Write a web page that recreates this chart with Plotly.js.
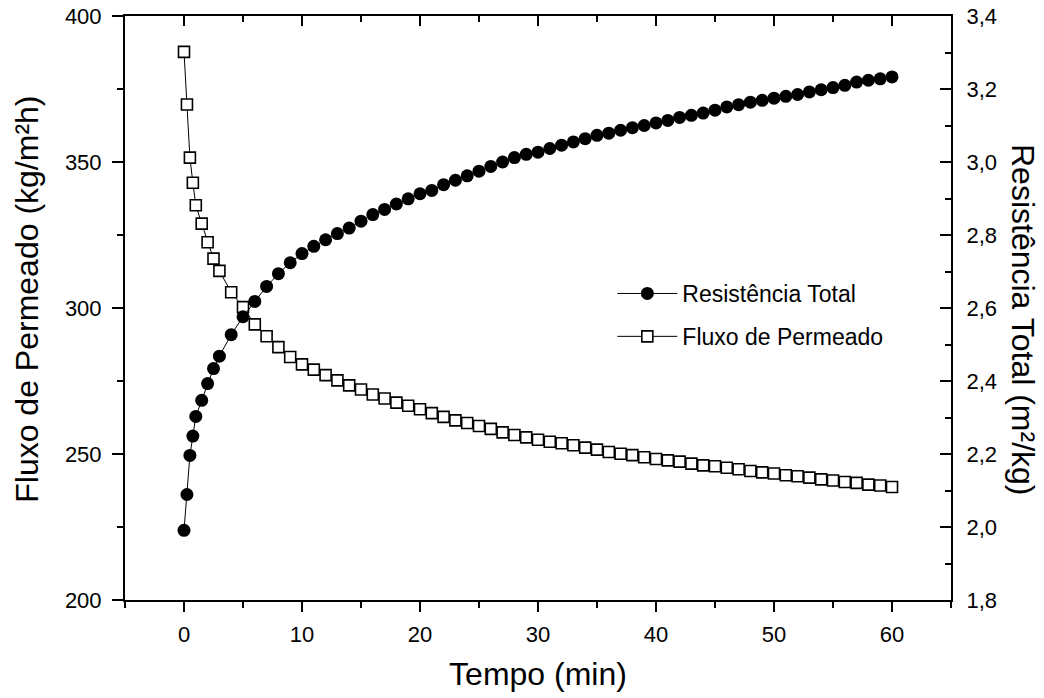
<!DOCTYPE html>
<html>
<head>
<meta charset="utf-8">
<script src="https://cdn.plot.ly/plotly-3.0.1.min.js"></script>
<style>html,body{margin:0;padding:0;background:#fff;}#chart{width:1044px;height:698px;}</style>
</head>
<body>
<div id="chart"></div>
<script>
var tempo = [0,0.25,0.5,0.75,1,1.5,2,2.5,3,4,5,6,7,8,9,10,11,12,13,14,15,16,17,18,19,20,21,22,23,24,25,26,27,28,29,30,31,32,33,34,35,36,37,38,39,40,41,42,43,44,45,46,47,48,49,50,51,52,53,54,55,56,57,58,59,60];
var fluxo = [387.7,369.7,351.5,342.9,335.2,328.9,322.5,316.9,312.7,305.4,300.3,294.4,290.3,286.6,283.2,280.7,278.9,277.0,275.2,273.5,272.1,270.4,269.0,267.6,266.5,265.3,264.0,262.7,261.5,260.6,259.6,258.6,257.4,256.5,255.7,254.9,254.2,253.7,253.0,252.2,251.5,250.7,250.1,249.6,248.9,248.3,247.8,247.4,246.7,246.1,245.8,245.3,244.8,244.2,243.7,243.3,242.7,242.4,241.9,241.3,240.9,240.4,240.1,239.5,239.2,238.7];
var resistencia = [1.991,2.089,2.196,2.249,2.303,2.347,2.393,2.434,2.468,2.527,2.576,2.618,2.659,2.694,2.724,2.749,2.769,2.787,2.804,2.819,2.838,2.856,2.870,2.885,2.899,2.913,2.922,2.938,2.950,2.962,2.975,2.988,3.000,3.012,3.021,3.027,3.037,3.046,3.055,3.064,3.073,3.079,3.087,3.094,3.100,3.107,3.114,3.122,3.128,3.134,3.142,3.151,3.157,3.164,3.169,3.175,3.180,3.185,3.192,3.198,3.204,3.210,3.219,3.224,3.228,3.233];
var nomeResistencia = 'Resistência Total';
var nomeFluxo = 'Fluxo de Permeado';
var tituloX = 'Tempo (min)';
var tituloY1 = 'Fluxo de Permeado (kg/m²h)';
var tituloY2 = 'Resistência Total (m²/kg)';

var FONT = 'Liberation Sans, Arial, Helvetica, sans-serif';

var traces = [
  {
    x: tempo, y: fluxo, name: nomeFluxo, type: 'scatter', mode: 'lines+markers',
    xaxis: 'x', yaxis: 'y', legendgroup: 'b', legendrank: 2,
    line: {color: '#000', width: 1},
    marker: {symbol: 'square', size: 11, color: '#fff', line: {color: '#000', width: 1.6}}
  },
  {
    x: tempo, y: resistencia, name: nomeResistencia, type: 'scatter', mode: 'lines+markers',
    xaxis: 'x', yaxis: 'y2', legendgroup: 'a', legendrank: 1,
    line: {color: '#000', width: 1},
    marker: {symbol: 'circle', size: 13, color: '#000', line: {width: 0}}
  },
  {
    x: [tempo[0]], y: [fluxo[0]], xaxis: 'x2', yaxis: 'y', showlegend: false,
    mode: 'markers', marker: {opacity: 0}, hoverinfo: 'skip'
  }
];

var layout = {
  width: 1044, height: 698,
  margin: {l: 125, r: 93, t: 16, b: 98},
  paper_bgcolor: '#fff', plot_bgcolor: '#fff',
  separators: ',.',
  font: {family: FONT, size: 22, color: '#000'},
  showlegend: true,
  legend: {
    x: 0.59, y: 0.488, xanchor: 'left', yanchor: 'middle',
    bgcolor: 'rgba(0,0,0,0)', borderwidth: 0, itemwidth: 60,
    font: {family: FONT, size: 23, color: '#000'},
    traceorder: 'grouped', tracegroupgap: 10
  },
  xaxis: {
    range: [-5, 65], tick0: 0, dtick: 10, showgrid: false, zeroline: false,
    showline: true, linewidth: 2, linecolor: '#000',
    ticks: 'outside', ticklen: 10, tickwidth: 2, tickcolor: '#000',
    minor: {dtick: 5, ticks: 'outside', ticklen: 6, tickwidth: 2, tickcolor: '#000', showgrid: false},
    tickfont: {size: 22}, ticklabelstandoff: 4,
    title: {text: tituloX, font: {size: 32}, standoff: 16}
  },
  xaxis2: {
    overlaying: 'x', side: 'top', range: [-5, 65], tick0: 0, dtick: 10,
    showgrid: false, zeroline: false, showticklabels: false,
    showline: true, linewidth: 2, linecolor: '#000',
    ticks: 'inside', ticklen: 10, tickwidth: 2, tickcolor: '#000',
    minor: {dtick: 5, ticks: 'inside', ticklen: 6, tickwidth: 2, tickcolor: '#000', showgrid: false}
  },
  yaxis: {
    range: [200, 400], tick0: 200, dtick: 50, showgrid: false, zeroline: false,
    showline: true, linewidth: 2, linecolor: '#000',
    ticks: 'outside', ticklen: 11, tickwidth: 2, tickcolor: '#000',
    minor: {dtick: 25, ticks: 'outside', ticklen: 6, tickwidth: 2, tickcolor: '#000', showgrid: false},
    tickfont: {size: 22}, ticklabelstandoff: 6
  },
  yaxis2: {
    overlaying: 'y', side: 'right', range: [1.8, 3.4], tick0: 1.8, dtick: 0.2, tickformat: '.1f',
    showgrid: false, zeroline: false,
    showline: true, linewidth: 2, linecolor: '#000',
    ticks: 'inside', ticklen: 11, tickwidth: 2, tickcolor: '#000',
    minor: {dtick: 0.1, ticks: 'inside', ticklen: 6, tickwidth: 2, tickcolor: '#000', showgrid: false},
    tickfont: {size: 22}, ticklabelstandoff: 9
  },
  annotations: [
    {
      text: tituloY1, xref: 'paper', yref: 'paper', x: -0.118, y: 0.515,
      xanchor: 'center', yanchor: 'middle', textangle: -90, showarrow: false,
      font: {family: FONT, size: 32, color: '#000'}
    },
    {
      text: tituloY2, xref: 'paper', yref: 'paper', x: 1.088, y: 0.48,
      xanchor: 'center', yanchor: 'middle', textangle: 90, showarrow: false,
      font: {family: FONT, size: 32, color: '#000'}
    }
  ]
};

Plotly.newPlot('chart', traces, layout, {displayModeBar: false, staticPlot: true});
</script>
</body>
</html>
